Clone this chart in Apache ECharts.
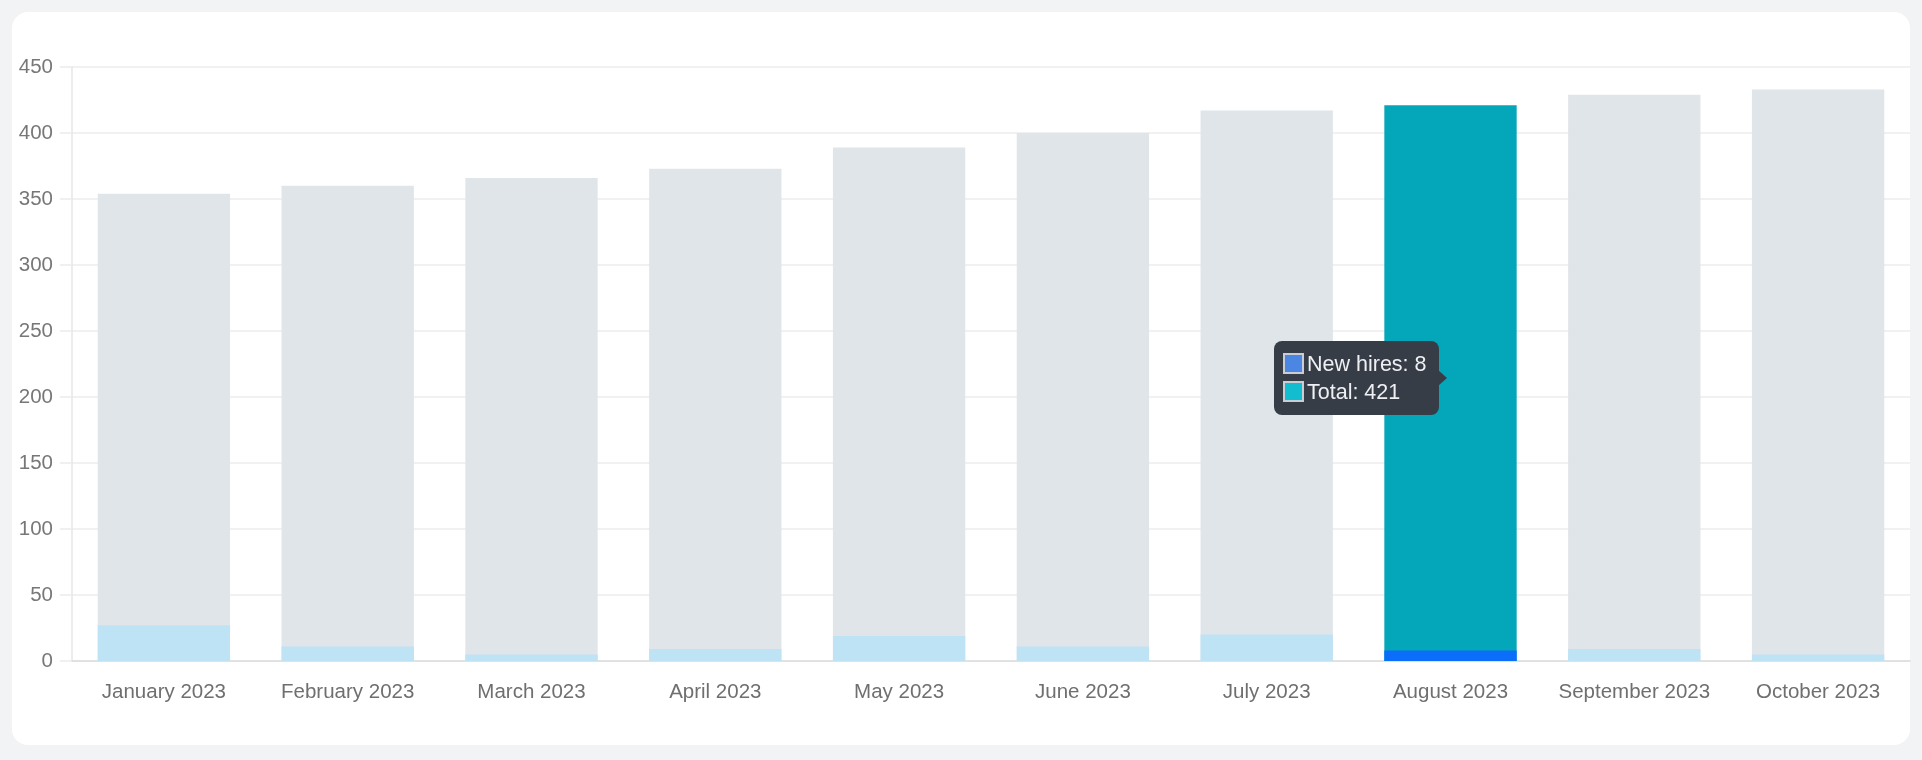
<!DOCTYPE html>
<html>
<head>
<meta charset="utf-8">
<script src="https://cdn.jsdelivr.net/npm/echarts@6/dist/echarts.min.js"></script>
<style>
  html, body { margin: 0; padding: 0; background: #f2f3f5; }
  #card { position: absolute; left: 12px; top: 12px; width: 1898px; height: 733px; background: #ffffff; border-radius: 16px; }
  #chart { position: absolute; left: 0; top: 0; width: 1922px; height: 760px; }
</style>
</head>
<body>
<div id="card"></div>
<div id="chart"></div>
<script>
const categories = ['January 2023', 'February 2023', 'March 2023', 'April 2023', 'May 2023', 'June 2023', 'July 2023', 'August 2023', 'September 2023', 'October 2023'];
const totalValues = [354, 360, 366, 373, 389, 400, 417, 421, 429, 433];
const newHiresValues = [27, 11, 5, 9, 19, 11, 20, 8, 9, 5];
const yTicks = [0, 50, 100, 150, 200, 250, 300, 350, 400, 450];
const highlightIndex = 7;

const FONT = '"Liberation Sans", Arial, sans-serif';
const chart = echarts.init(document.getElementById('chart'), null, { renderer: 'canvas' });

function marker(color) {
  return '<span style="display:inline-block;box-sizing:border-box;width:21px;height:21px;border:2px solid #c9ced6;background:' + color + ';vertical-align:middle;margin-right:3px;margin-top:-3px;"></span>';
}

chart.setOption({
  animation: false,
  backgroundColor: 'transparent',
  grid: { left: 72, right: 12, top: 67, bottom: 99, containLabel: false },
  xAxis: {
    type: 'category',
    data: categories,
    axisLine: { show: true, lineStyle: { color: '#dcdcdc', width: 1.5 } },
    axisTick: { show: false },
    axisLabel: { color: '#6f6f6f', fontSize: 20.5, fontFamily: FONT, margin: 21, interval: 0 },
    splitLine: { show: false }
  },
  yAxis: {
    type: 'value',
    min: yTicks[0],
    max: yTicks[yTicks.length - 1],
    interval: yTicks[1] - yTicks[0],
    axisLine: { show: true, lineStyle: { color: '#e6e6e6', width: 1.5 } },
    axisTick: { show: true, length: 12, lineStyle: { color: '#ececec', width: 1.5 } },
    axisLabel: { color: '#777777', fontSize: 20.5, fontFamily: FONT, margin: 19 },
    splitLine: { show: true, lineStyle: { color: '#ececec', width: 1.5 } }
  },
  tooltip: {
    trigger: 'axis',
    alwaysShowContent: true,
    axisPointer: { type: 'none' },
    backgroundColor: '#363d47',
    borderWidth: 0,
    borderRadius: 8,
    padding: [9, 12, 9, 9],
    extraCssText: 'box-shadow:none;line-height:28px;overflow:visible;',
    textStyle: { color: '#eef0f3', fontSize: 21.5, fontFamily: FONT },
    formatter: function (params) {
      const i = params[0].dataIndex;
      return '<div style="position:relative;">' +
        '<div>' + marker('#4a86e2') + 'New hires: ' + newHiresValues[i] + '</div>' +
        '<div>' + marker('#13bdd0') + 'Total: ' + totalValues[i] + '</div>' +
        '<div style="position:absolute;right:-20px;top:50%;margin-top:-8px;width:0;height:0;border-top:8px solid transparent;border-bottom:8px solid transparent;border-left:9px solid #363d47;"></div>' +
        '</div>';
    },
    position: function (point, params, dom, rect, size) {
      const i = params[0].dataIndex;
      const cx = chart.convertToPixel({ xAxisIndex: 0 }, categories[i]);
      const yTop = chart.convertToPixel({ yAxisIndex: 0 }, totalValues[i]);
      const yBot = chart.convertToPixel({ yAxisIndex: 0 }, 0);
      const w = size.contentSize[0], h = size.contentSize[1];
      return [cx - w - 12, (yTop + yBot) / 2 - h / 2 - 5];
    }
  },
  series: [
    {
      name: 'Total',
      type: 'bar',
      data: totalValues,
      barCategoryGap: '28%',
      itemStyle: {
        color: function (p) { return p.dataIndex === highlightIndex ? '#04a6ba' : '#e0e5ea'; }
      },
      emphasis: { disabled: true }
    },
    {
      name: 'New hires',
      type: 'bar',
      data: newHiresValues,
      barGap: '-100%',
      barCategoryGap: '28%',
      itemStyle: {
        color: function (p) { return p.dataIndex === highlightIndex ? '#0b6efa' : '#bee3f5'; }
      },
      emphasis: { disabled: true }
    }
  ]
});

chart.dispatchAction({ type: 'showTip', seriesIndex: 0, dataIndex: highlightIndex });
</script>
</body>
</html>
